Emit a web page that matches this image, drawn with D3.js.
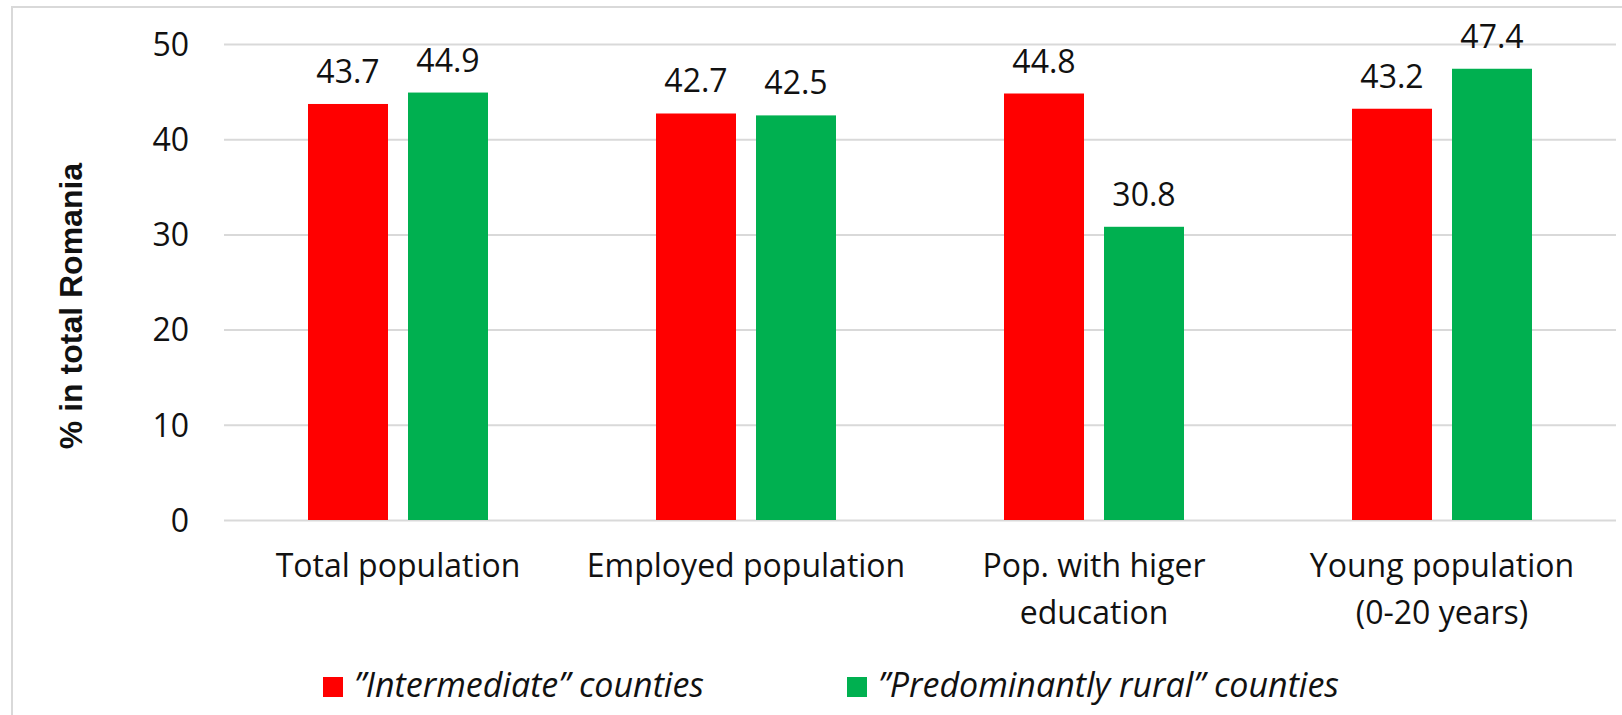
<!DOCTYPE html>
<html>
<head>
<meta charset="utf-8">
<script src="https://cdn.jsdelivr.net/npm/d3@7"></script>
<style>
  html, body { margin: 0; padding: 0; background: #ffffff; }
  svg { display: block; }
</style>
</head>
<body>
<svg id="chart" width="1622" height="715"></svg>
<script>
// ---- data ----
const categories = ["Total population", "Employed population", "Pop. with higer\neducation", "Young population\n(0-20 years)"];
const seriesNames = ["\u201DIntermediate\u201D counties", "\u201DPredominantly rural\u201D counties"];
const intermediate = [43.7, 42.7, 44.8, 43.2];
const rural = [44.9, 42.5, 30.8, 47.4];
const yTicks = [0, 10, 20, 30, 40, 50];
const yTitle = "% in total Romania";
const colors = ["#FF0000", "#00B050"];

// ---- layout ----
const svg = d3.select("#chart");
const plot = { left: 224, right: 1616, top: 44, bottom: 520 };
const font = "'Open Sans', 'Noto Sans', sans-serif";

// outer chart-area border (extends beyond the visible frame on right/bottom)
svg.append("rect")
  .attr("x", 12).attr("y", 7)
  .attr("width", 1700).attr("height", 800)
  .attr("fill", "none").attr("stroke", "#d9d9d9").attr("stroke-width", 2);

const x0 = d3.scaleBand().domain(categories).range([plot.left, plot.right]).paddingInner(0).paddingOuter(0);
const bw = x0.bandwidth();
const x1 = d3.scaleBand().domain([0, 1]).range([bw / 2 - 90, bw / 2 + 90]).paddingInner(0.2).paddingOuter(0);
const y = d3.scaleLinear().domain([0, 50]).range([plot.bottom, plot.top]);

// y axis with gridlines
const yAxis = svg.append("g")
  .attr("transform", `translate(${plot.left},0)`)
  .call(d3.axisLeft(y).tickValues(yTicks).tickSize(-(plot.right - plot.left)).tickPadding(35).tickFormat(d3.format("d")));
yAxis.select(".domain").remove();
yAxis.selectAll(".tick line").attr("stroke", "#d9d9d9").attr("stroke-width", 2);
yAxis.selectAll(".tick text")
  .attr("font-family", font).attr("font-size", 32).attr("fill", "#111111")
  .attr("dy", "0.35em");

// bars
const data = categories.map((c, i) => ({ cat: c, vals: [intermediate[i], rural[i]] }));
const groups = svg.append("g").selectAll("g").data(data).join("g")
  .attr("transform", d => `translate(${x0(d.cat)},0)`);

groups.selectAll("rect").data(d => d.vals.map((v, k) => ({ v, k }))).join("rect")
  .attr("x", d => x1(d.k))
  .attr("width", x1.bandwidth())
  .attr("y", d => y(d.v))
  .attr("height", d => y(0) - y(d.v))
  .attr("fill", d => colors[d.k]);

groups.selectAll("text.val").data(d => d.vals.map((v, k) => ({ v, k }))).join("text")
  .attr("class", "val")
  .attr("x", d => x1(d.k) + x1.bandwidth() / 2)
  .attr("y", d => y(d.v) - 21)
  .attr("text-anchor", "middle")
  .attr("font-family", font).attr("font-size", 32).attr("fill", "#111111")
  .text(d => d3.format(".1f")(d.v));

// x axis labels
const xAxis = svg.append("g")
  .attr("transform", `translate(0,${plot.bottom})`)
  .call(d3.axisBottom(x0).tickSize(0).tickPadding(0));
xAxis.select(".domain").remove();
xAxis.selectAll(".tick text").each(function(d) {
  const t = d3.select(this);
  t.text(null)
    .attr("y", 0).attr("dy", null)
    .attr("font-family", font).attr("font-size", 32).attr("fill", "#111111")
    .attr("text-anchor", "middle");
  d.split("\n").forEach((line, i) => {
    t.append("tspan").attr("x", 0).attr("y", 57 + i * 47).text(line);
  });
});

// y title
svg.append("text")
  .attr("transform", "translate(82,306) rotate(-90)")
  .attr("text-anchor", "middle")
  .attr("font-family", "'Liberation Sans', Arial, sans-serif")
  .attr("font-weight", "bold").attr("font-size", 32).attr("fill", "#111111")
  .text(yTitle);

// legend
const legendPos = [323, 847];
const legend = svg.append("g").selectAll("g").data(seriesNames).join("g")
  .attr("transform", (d, i) => `translate(${legendPos[i]},0)`);
legend.append("rect")
  .attr("x", 0).attr("y", 677).attr("width", 20).attr("height", 20)
  .attr("fill", (d, i) => colors[i]);
legend.append("text")
  .attr("x", 31).attr("y", 697)
  .attr("font-family", font).attr("font-style", "italic").attr("font-size", 34).attr("fill", "#111111")
  .text(d => d);
</script>
</body>
</html>
